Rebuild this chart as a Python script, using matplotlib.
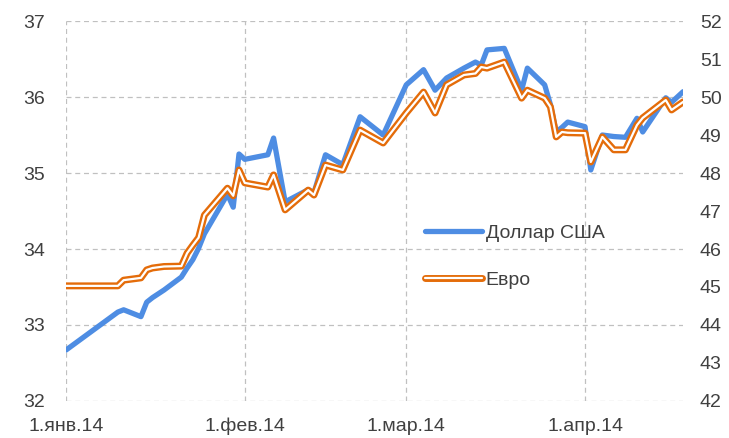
import pandas as pd
import matplotlib
matplotlib.use("Agg")
import matplotlib.pyplot as plt
import matplotlib.patheffects as pe

# ===========================
# DATA
# ===========================
dates = [
    "2014-01-01", "2014-01-10", "2014-01-11", "2014-01-14", "2014-01-15",
    "2014-01-16", "2014-01-18", "2014-01-21", "2014-01-22", "2014-01-23",
    "2014-01-24", "2014-01-25", "2014-01-29", "2014-01-30", "2014-01-31",
    "2014-02-01", "2014-02-05", "2014-02-06", "2014-02-08", "2014-02-12",
    "2014-02-13", "2014-02-15", "2014-02-18", "2014-02-21", "2014-02-25",
    "2014-03-01", "2014-03-04", "2014-03-06", "2014-03-08", "2014-03-11",
    "2014-03-13", "2014-03-14", "2014-03-15", "2014-03-18", "2014-03-21",
    "2014-03-22", "2014-03-25", "2014-03-26", "2014-03-27", "2014-03-28",
    "2014-03-29", "2014-04-01", "2014-04-02", "2014-04-04", "2014-04-06",
    "2014-04-08", "2014-04-10", "2014-04-11", "2014-04-15", "2014-04-16",
    "2014-04-18",
]
usd = [
    32.67, 33.17, 33.20, 33.11, 33.30,
    33.36, 33.46, 33.63, 33.75, 33.86,
    34.01, 34.20, 34.72, 34.55, 35.25,
    35.18, 35.24, 35.46, 34.62, 34.78,
    34.74, 35.24, 35.11, 35.74, 35.50,
    36.16, 36.36, 36.09, 36.25, 36.38,
    36.46, 36.42, 36.62, 36.64, 36.09,
    36.38, 36.16, 35.90, 35.54, 35.60,
    35.67, 35.61, 35.04, 35.50, 35.48,
    35.47, 35.72, 35.54, 35.99, 35.93,
    36.07,
]
eur = [
    45.03, 45.03, 45.18, 45.24, 45.45,
    45.50, 45.54, 45.55, 45.89, 46.10,
    46.30, 46.89, 47.60, 47.40, 48.08,
    47.74, 47.63, 47.95, 47.03, 47.55,
    47.42, 48.21, 48.08, 49.13, 48.79,
    49.58, 50.13, 49.58, 50.32, 50.58,
    50.62, 50.79, 50.76, 50.92, 49.97,
    50.18, 49.97, 49.74, 48.95, 49.08,
    49.06, 49.05, 48.29, 48.95, 48.61,
    48.61, 49.26, 49.45, 49.92, 49.66,
    49.87,
]
month_ticks = ["2014-01-01", "2014-02-01", "2014-03-01", "2014-04-01"]
month_labels = ["1.янв.14", "1.фев.14", "1.мар.14", "1.апр.14"]
left_ticks = [32, 33, 34, 35, 36, 37]
right_ticks = [42, 43, 44, 45, 46, 47, 48, 49, 50, 51, 52]

# ===========================
# STYLE
# ===========================
plt.rcParams["font.family"] = ["Liberation Sans", "DejaVu Sans"]
TEXT = "#404040"
GRID = "#C0C0C0"
BLUE = "#4E8DE3"
ORANGE = "#E46C0A"

x = pd.to_datetime(dates)

fig = plt.figure(figsize=(7.29, 4.38), dpi=100)
ax = fig.add_axes([0.0905, 0.0845, 0.8465, 0.8675])
ax2 = ax.twinx()

ax.plot(x, usd, color=BLUE, lw=3.8, solid_capstyle="round",
        solid_joinstyle="round", label="Доллар США")
ax2.plot(x, eur, color="white", lw=1.6, solid_joinstyle="round",
         solid_capstyle="round",
         path_effects=[pe.Stroke(linewidth=5.0, foreground=ORANGE,
                                 capstyle="round", joinstyle="round"),
                       pe.Normal()],
         label="Евро")

ax.set_ylim(32, 37)
ax2.set_ylim(42, 52)
ax.set_xlim(pd.Timestamp("2014-01-01"), pd.Timestamp("2014-04-18"))

ax.set_yticks(left_ticks)
ax2.set_yticks(right_ticks)
ax.set_xticks(pd.to_datetime(month_ticks))
ax.set_xticklabels(month_labels)

ax.grid(True, color=GRID, ls=(0, (4, 3)), lw=0.9)
ax.set_axisbelow(True)

for a in (ax, ax2):
    for s in a.spines.values():
        s.set_visible(False)
    a.tick_params(length=0, labelsize=14, colors=TEXT)
ax.tick_params(axis="y", pad=15)
ax.tick_params(axis="x", pad=12)
ax2.tick_params(axis="y", pad=12)

h1, l1 = ax.get_legend_handles_labels()
h2, l2 = ax2.get_legend_handles_labels()
leg = ax2.legend(h1 + h2, l1 + l2, loc="upper left", bbox_to_anchor=(0.57, 0.485),
                 frameon=False, fontsize=14, handlelength=2.9, handletextpad=0.2,
                 labelspacing=1.5, borderaxespad=0)
for t in leg.get_texts():
    t.set_color(TEXT)

fig.savefig("out.png", dpi=100)
